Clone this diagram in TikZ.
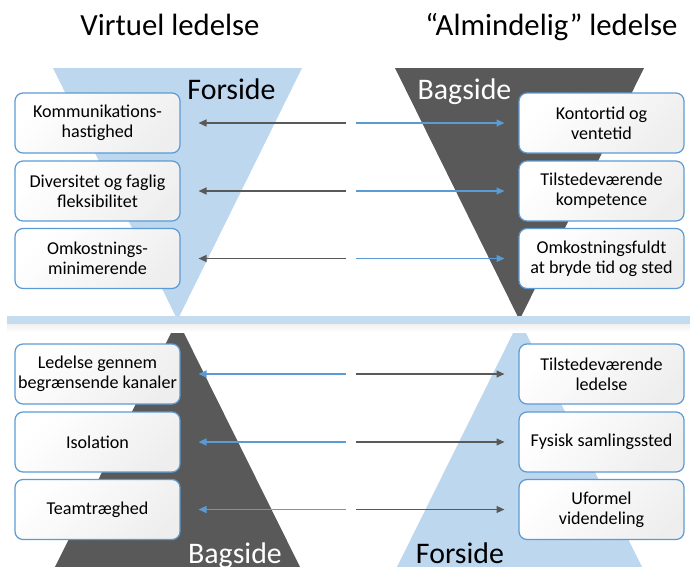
\documentclass[tikz,border=0pt]{standalone}
\usepackage{fontspec}
\setmainfont{Carlito}
\usetikzlibrary{arrows.meta}
\definecolor{lysblaa}{HTML}{BDD7EE}
\definecolor{moerk}{HTML}{595959}
\definecolor{kant}{HTML}{5B9BD5}
\definecolor{baand}{HTML}{C5DCEF}
\begin{document}
\begin{tikzpicture}[x=0.02cm, y=-0.02cm,
    felt/.style={draw=kant, line width=0.7pt, rounded corners=0.16cm,
      minimum width=3.3cm, minimum height=1.2cm,
      align=center, inner sep=1pt, font=\fontsize{10.3}{11.3}\selectfont,
      shading=axis, top color=white, bottom color=gray!13, shading angle=45},
    pil/.style={-{Triangle[length=4.5pt,width=4pt]}, line width=0.6pt,
      shorten <=2.8pt},
    tilvenstre/.style={pil, shorten >=0.36cm},
    tilhoejre/.style={pil, shorten >=0.28cm},
    overskrift/.style={anchor=base, font=\fontsize{17.5}{20}\selectfont},
    side/.style={anchor=base, font=\fontsize{17}{20}\selectfont}]
    \useasboundingbox (0,0) rectangle (690,566);
    \clip (0,0) rectangle (690,566);

    % Titles
    \node[overskrift] (virt) at (170,35) {Virtuel ledelse};
    \node[overskrift] (alm) at (551.5,35) {“Almindelig” ledelse};

    % Triangles
    \fill[lysblaa] (53,68) -- (302,68) -- (177.5,320) -- cycle;
    \fill[moerk] (395,68) -- (644,68) -- (519.5,320) -- cycle;
    \fill[moerk] (177.5,320) -- (303,573) -- (52,573) -- cycle;
    \fill[lysblaa] (519.5,320) -- (645,573) -- (394,573) -- cycle;

    % Band in the middle
    \shade[top color=gray!12, bottom color=white] (7,324) rectangle (690,332);
    \fill[baand] (7,316) rectangle (690,324);

    % Side labels
    \node[side] (fs1) at (231.5,99) {Forside};
    \node[side, white] (bs1) at (464.5,99) {Bagside};
    \node[side, white] (bs2) at (235,563) {Bagside};
    \node[side] (fs2) at (460,563) {Forside};

    % Boxes - virtuel
    \node[felt] (kom) at (97.5,123) {Kommunikations-\\hastighed};
    \node[felt] (div) at (97.5,191) {Diversitet og faglig\\fleksibilitet};
    \node[felt] (omk) at (97.5,258.5) {Omkostnings-\\minimerende};
    \node[felt] (led) at (97.5,374) {Ledelse gennem\\begrænsende kanaler};
    \node[felt] (iso) at (97.5,442) {Isolation};
    \node[felt] (team) at (97.5,509.5) {Teamtræghed};

    % Boxes - almindelig
    \node[felt] (kon) at (601.5,123) {Kontortid og\\ventetid};
    \node[felt] (til) at (601.5,191) {Tilstedeværende\\kompetence};
    \node[felt] (omf) at (601.5,258.5) {Omkostningsfuldt\\at bryde tid og sted};
    \node[felt] (tled) at (601.5,374) {Tilstedeværende\\ledelse};
    \node[felt] (fys) at (601.5,442) {Fysisk samlingssted};
    \node[felt] (ufo) at (601.5,509.5) {Uformel\\videndeling};

    % Middle points
    \coordinate (m1) at (351,123);
    \coordinate (m2) at (351,191);
    \coordinate (m3) at (351,258.5);
    \coordinate (m4) at (351,374);
    \coordinate (m5) at (351,442);
    \coordinate (m6) at (351,509.5);

    % Arrows
    \draw[tilvenstre, moerk] (m1) -- (kom.east);
    \draw[tilvenstre, moerk] (m2) -- (div.east);
    \draw[tilvenstre, moerk] (m3) -- (omk.east);
    \draw[tilhoejre, kant] (m1) -- (kon.west);
    \draw[tilhoejre, kant] (m2) -- (til.west);
    \draw[tilhoejre, kant] (m3) -- (omf.west);

    \draw[tilvenstre, kant] (m4) -- (led.east);
    \draw[tilvenstre, kant] (m5) -- (iso.east);
    \draw[tilvenstre, kant] (m6) -- (team.east);
    \draw[tilhoejre, moerk] (m4) -- (tled.west);
    \draw[tilhoejre, moerk] (m5) -- (fys.west);
    \draw[tilhoejre, moerk] (m6) -- (ufo.west);
\end{tikzpicture}
\end{document}
